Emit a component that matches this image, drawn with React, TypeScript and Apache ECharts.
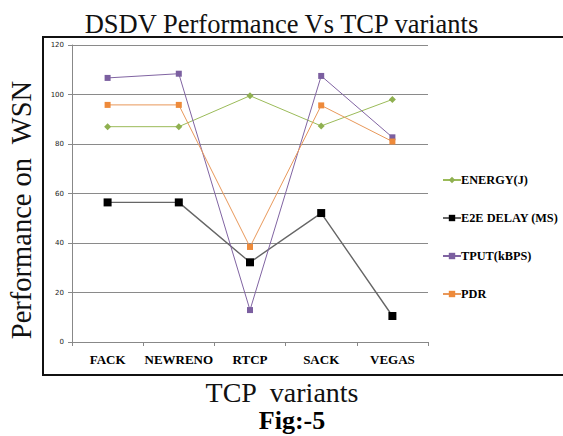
import React, { useEffect, useRef } from "react";
import * as echarts from "echarts";

const categories = ["FACK", "NEWRENO", "RTCP", "SACK", "VEGAS"];
const energy = [87, 87, 99.5, 87.3, 98];
const e2eDelay = [56.4, 56.4, 32.2, 52.1, 10.5];
const tput = [106.7, 108.4, 12.9, 107.5, 82.7];
const pdr = [95.8, 95.8, 38.4, 95.6, 81];
const yTicks = [0, 20, 40, 60, 80, 100, 120];

const serif = "Liberation Serif";

export default function App() {
  const ref = useRef<HTMLDivElement>(null);
  useEffect(() => {
    document.body.style.margin = "0";
    const chart = echarts.init(ref.current!, null, { renderer: "svg" });
    chart.setOption({
      animation: false,
      backgroundColor: "#ffffff",
      title: {
        text: "DSDV Performance Vs TCP variants",
        left: "center",
        top: 5,
        textStyle: { fontFamily: serif, fontSize: 26.5, fontWeight: "normal", color: "#111" },
      },
      grid: { left: 72, top: 45, width: 356, height: 297 },
      legend: {
        orient: "vertical",
        left: 437,
        top: 169,
        itemGap: 26,
        itemWidth: 18,
        itemHeight: 8,
        textStyle: { fontFamily: serif, fontWeight: "bold", fontSize: 12.3, color: "#000", padding: [0, 0, 0, -5] },
        data: ["ENERGY(J)", "E2E DELAY (MS)", "TPUT(kBPS)", "PDR"],
      },
      xAxis: {
        type: "category",
        data: categories,
        boundaryGap: true,
        axisLine: { lineStyle: { color: "#888", width: 1 } },
        axisTick: { show: true, length: 4, lineStyle: { color: "#888" } },
        axisLabel: { interval: 0, fontFamily: serif, fontWeight: "bold", fontSize: 13, color: "#000", margin: 11 },
      },
      yAxis: {
        type: "value",
        min: yTicks[0],
        max: yTicks[yTicks.length - 1],
        interval: 20,
        axisLine: { show: true, lineStyle: { color: "#888", width: 1 } },
        axisTick: { show: true, length: 4, lineStyle: { color: "#888" } },
        axisLabel: { fontFamily: "DejaVu Sans", fontSize: 7, color: "#222", margin: 8 },
        splitLine: { lineStyle: { color: "#8a8a8a", width: 1 } },
      },
      series: [
        {
          name: "ENERGY(J)",
          type: "line",
          data: energy,
          symbol: "diamond",
          symbolSize: 7,
          itemStyle: { color: "#8FB050" },
          lineStyle: { color: "#9BBB59", width: 1 },
        },
        {
          name: "E2E DELAY (MS)",
          type: "line",
          data: e2eDelay,
          symbol: "rect",
          symbolSize: 8,
          itemStyle: { color: "#000" },
          lineStyle: { color: "#666", width: 1.4 },
        },
        {
          name: "TPUT(kBPS)",
          type: "line",
          data: tput,
          symbol: "rect",
          symbolSize: 6,
          itemStyle: { color: "#7B5FA0" },
          lineStyle: { color: "#8064A2", width: 1 },
        },
        {
          name: "PDR",
          type: "line",
          data: pdr,
          symbol: "rect",
          symbolSize: 6,
          itemStyle: { color: "#EE8A3A" },
          lineStyle: { color: "#E8985A", width: 1 },
        },
      ],
      graphic: [
        {
          type: "polyline",
          shape: { points: [[600, 37], [43, 37], [43, 375], [600, 375]] },
          style: { stroke: "#111", lineWidth: 2, fill: null },
          silent: true,
        },
        {
          type: "text",
          x: 21,
          y: 210,
          rotation: Math.PI / 2,
          style: {
            text: "Performance on  WSN",
            fontFamily: serif,
            fontSize: 28.5,
            fill: "#111",
            align: "center",
            verticalAlign: "middle",
          },
        },
        {
          type: "text",
          x: 282,
          y: 392,
          style: {
            text: "TCP  variants",
            fontFamily: serif,
            fontSize: 28,
            fill: "#111",
            align: "center",
            verticalAlign: "middle",
          },
        },
        {
          type: "text",
          x: 292,
          y: 420,
          style: {
            text: "Fig:-5",
            fontFamily: serif,
            fontSize: 26,
            fontWeight: "bold",
            fill: "#000",
            align: "center",
            verticalAlign: "middle",
          },
        },
      ],
    });
    return () => chart.dispose();
  }, []);
  return <div ref={ref} style={{ position: "absolute", left: 0, top: 0, width: 563, height: 436 }} />;
}
